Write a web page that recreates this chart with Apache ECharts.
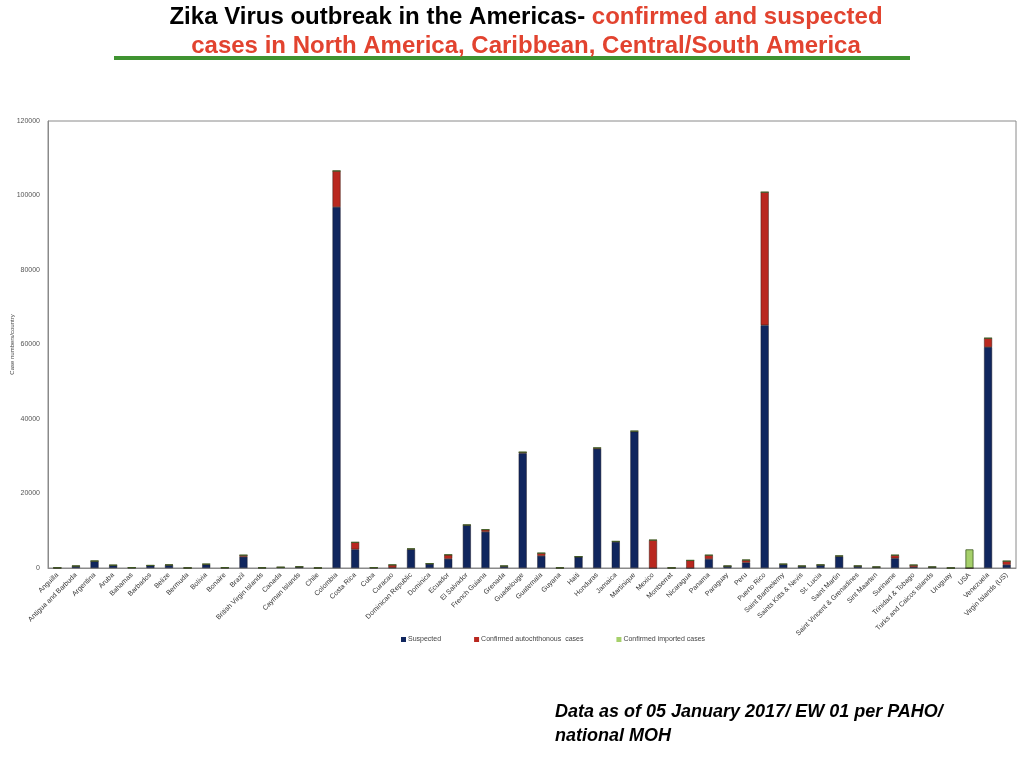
<!DOCTYPE html>
<html>
<head>
<meta charset="utf-8">
<script src="https://cdn.jsdelivr.net/npm/echarts@6/dist/echarts.min.js"></script>
<style>html,body{margin:0;padding:0;background:#fff;}#c{width:1024px;height:768px;}</style>
</head>
<body>
<div id="c"></div>
<script>
const categories = ["Anguilla","Antigua and Barbuda","Argentina","Aruba","Bahamas","Barbados","Belize","Bermuda","Bolivia","Bonaire","Brazil","British Virgin Islands","Canada","Cayman Islands","Chile","Colombia","Costa Rica","Cuba","Curacao","Dominican Republic","Dominica","Ecuador","El Salvador","French Guiana","Grenada","Guadelouge","Guatemala","Guyana","Haiti","Honduras","Jamaica","Martinique","Mexico","Montserrat","Nicaragua","Panama","Paraguay","Peru","Puerto Rico","Saint Barthelemy","Saints Kitts & Nevis","St. Lucia","Saint Martin","Saint Vincent & Grenadines","Sint Maarten","Suriname","Trinidad & Tobago","Turks and Caicos Islands","Uruguay","USA","Venezuela","Virgin Islands (US)"];
const suspected = [30,500,1800,700,80,650,800,20,900,60,3000,50,200,300,20,96900,5000,50,100,5000,1100,2450,11500,9700,450,30800,3250,30,3000,32000,7000,36600,0,20,0,2400,500,1450,65200,950,500,800,3100,500,250,2600,250,250,0,0,59300,850];
const confirmedAutochthonous = [20,40,80,60,20,50,30,0,150,30,450,20,0,30,0,9700,1900,60,750,150,80,1100,50,600,100,300,750,20,50,250,150,150,7500,20,2050,1050,30,700,35700,100,30,30,150,50,30,850,550,30,0,0,2400,1000];
const confirmedImported = [0,0,0,0,0,0,0,0,0,0,0,0,0,0,0,0,0,0,0,0,0,0,0,0,0,0,0,0,0,0,0,0,0,0,0,0,0,0,0,0,0,0,0,0,0,0,0,0,0,5000,0,0];
const yTicks = {min:0, max:120000, interval:20000};

const chart = echarts.init(document.getElementById('c'));
const font = 'Liberation Sans, Arial, Helvetica, sans-serif';
const barW = 8;
chart.setOption({
  animation: false,
  backgroundColor: '#fff',
  title: {
    left: 521, textAlign: 'center', top: -2,
    text: '{a|Zika Virus outbreak in the Americas- }{b|confirmed and suspected}\n{b|cases in North America, Caribbean, Central/South America}',
    textStyle: {
      rich: {
        a: {fontFamily: '"Liberation Sans", Arial, sans-serif', fontWeight: 'bold', fontSize: 24, color: '#000', lineHeight: 29},
        b: {fontFamily: '"Liberation Sans", Arial, sans-serif', fontWeight: 'bold', fontSize: 24, color: '#e2432f', lineHeight: 29}
      }
    }
  },
  graphic: [
    {type: 'line', shape: {x1: 114, y1: 58, x2: 910, y2: 58}, style: {stroke: '#3f9331', lineWidth: 4}},
    {type: 'text', left: 555, top: 700, style: {text: 'Data as of 05 January 2017/ EW 01 per PAHO/\nnational MOH', font: 'italic bold 18px "Liberation Sans", Arial, sans-serif', fill: '#000', lineHeight: 24}}
  ],
  legend: {
    left: 396, top: 631, itemWidth: 5, itemHeight: 5, itemGap: 33,
    icon: 'rect',
    itemStyle: {borderWidth: 0},
    textStyle: {fontFamily: font, fontSize: 7, color: '#444', padding: [0, 0, 0, -3]},
    data: ['Suspected', 'Confirmed autochthonous  cases', 'Confirmed imported cases']
  },
  grid: {left: 48, right: 8, top: 121, bottom: 200, show: true, borderColor: '#8a8a8a', borderWidth: 1, outerBoundsMode: 'none', containLabel: false},
  xAxis: {
    type: 'category', data: categories,
    axisLine: {lineStyle: {color: '#8a8a8a'}},
    axisTick: {show: false},
    axisLabel: {rotate: 45, interval: 0, fontFamily: font, fontSize: 7, color: '#333', margin: 6}
  },
  yAxis: {
    type: 'value', min: yTicks.min, max: yTicks.max, interval: yTicks.interval,
    name: 'Case numbers/country', nameLocation: 'middle', nameGap: 33, nameMoveOverlap: false,
    nameTextStyle: {fontFamily: font, fontSize: 6, color: '#444'},
    splitLine: {show: false},
    axisLine: {show: true, lineStyle: {color: '#8a8a8a'}},
    axisTick: {show: false},
    axisLabel: {fontFamily: font, fontSize: 7, color: '#555', margin: 8, formatter: function (v) { return String(v); }}
  },
  series: [
    {name: 'Suspected', type: 'bar', stack: 's', data: suspected, barWidth: barW,
     itemStyle: {color: '#10265e', borderColor: '#1b1b2a', borderWidth: 0.5}},
    {name: 'Confirmed autochthonous  cases', type: 'bar', stack: 's', data: confirmedAutochthonous, barWidth: barW,
     itemStyle: {color: '#b9281f', borderColor: '#3a1a14', borderWidth: 0.5}},
    {name: 'Confirmed imported cases', type: 'bar', stack: 's', data: confirmedImported, barWidth: barW,
     itemStyle: {color: '#a6d06b', borderColor: '#3d5a22', borderWidth: 0.8}}
  ]
});
</script>
</body>
</html>
